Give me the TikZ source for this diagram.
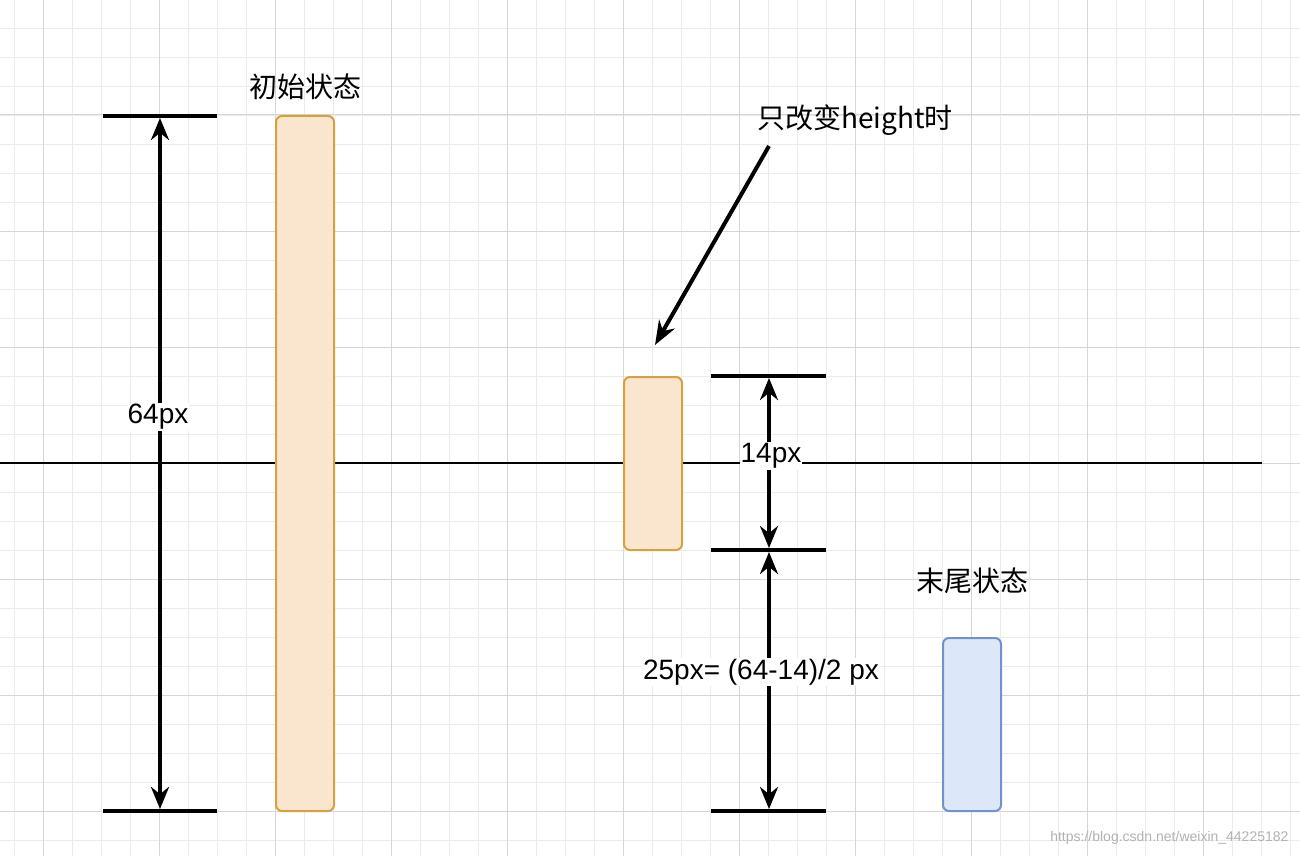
\documentclass[tikz,border=0pt]{standalone}
\usepackage{fontspec}
\setmainfont{Liberation Sans}
\newfontfamily\cjk{Noto Sans CJK SC}
\usetikzlibrary{arrows.meta}
\definecolor{ofill}{HTML}{FAE6CF}
\definecolor{ostroke}{HTML}{D6A140}
\definecolor{bfill}{HTML}{DCE8FA}
\definecolor{bstroke}{HTML}{7093C8}
\begin{document}
\begin{tikzpicture}[x=1pt,y=-1pt,
  bar/.style={line width=4pt},
  dimarrow/.style={line width=4pt,{Stealth[length=22pt,width=18pt]}-{Stealth[length=22pt,width=18pt]}},
  orect/.style={draw=ostroke,fill=ofill,line width=2pt,rounded corners=6pt},
  brect/.style={draw=bstroke,fill=bfill,line width=2pt,rounded corners=6pt},
  lab/.style={font=\fontsize{28}{32}\selectfont,fill=white,inner sep=1pt},
  clab/.style={font=\cjk\fontsize{28}{32}\selectfont,inner sep=1pt}]
\useasboundingbox (0,0) rectangle (1300,856);
\fill[white] (0,0) rectangle (1300,856);
\foreach \x in {14,43,...,1300} \draw[black!8,line width=0.8pt] (\x,0) -- (\x,856);
\foreach \y in {28,57,...,856} \draw[black!8,line width=0.8pt] (0,\y) -- (1300,\y);
\foreach \x in {43,159,...,1300} \draw[black!16,line width=1pt] (\x,0) -- (\x,856);
\foreach \y in {115,231,...,856} \draw[black!16,line width=1pt] (0,\y) -- (1300,\y);
\draw[line width=2pt] (0,463) -- (1262,463);
\node[orect,minimum width=58pt,minimum height=695pt] (r1) at (305,463.5) {};
\node[orect,minimum width=58pt,minimum height=173pt] (r2) at (653,463.5) {};
\node[brect,minimum width=58pt,minimum height=173pt] (r3) at (972,724.5) {};
% left dimension
\coordinate (lt1) at (103,116); \coordinate (lt2) at (217,116);
\coordinate (lb1) at (103,811); \coordinate (lb2) at (217,811);
\draw[bar] (lt1) -- (lt2); \draw[bar] (lb1) -- (lb2);
\coordinate (la) at (160,118); \coordinate (lb) at (160,809);
\draw[dimarrow] (la) -- (lb);
\node[lab] (l64) at (158,417) {64px};
% right dimensions
\coordinate (a1) at (711,376); \coordinate (a2) at (826,376);
\coordinate (b1) at (711,550); \coordinate (b2) at (826,550);
\coordinate (c1) at (711,811); \coordinate (c2) at (826,811);
\draw[bar] (a1) -- (a2); \draw[bar] (b1) -- (b2); \draw[bar] (c1) -- (c2);
\coordinate (p1) at (769,378); \coordinate (p2) at (769,548);
\coordinate (p3) at (769,552); \coordinate (p4) at (769,809);
\draw[dimarrow] (p1) -- (p2);
\draw[dimarrow] (p3) -- (p4);
\node[lab] (l14) at (771,456) {14px};
\node[lab] (l25) at (761,672) {25px= (64-14)/2 px};
% labels
\node[clab] (t1) at (305,87) {初始状态};
\node[clab] (t2) at (855,120) {只改变height时};
\node[clab] (t3) at (972,581) {末尾状态};
\coordinate (s) at (769,146); \coordinate (e) at (655,345);
\draw[line width=4pt,-{Stealth[length=24pt,width=18pt]}] (s) -- (e);
\node[font=\fontsize{14}{16}\selectfont,text=black!30,anchor=east] (wm) at (1292,838) {https://blog.csdn.net/weixin\_44225182};
\end{tikzpicture}
\end{document}
